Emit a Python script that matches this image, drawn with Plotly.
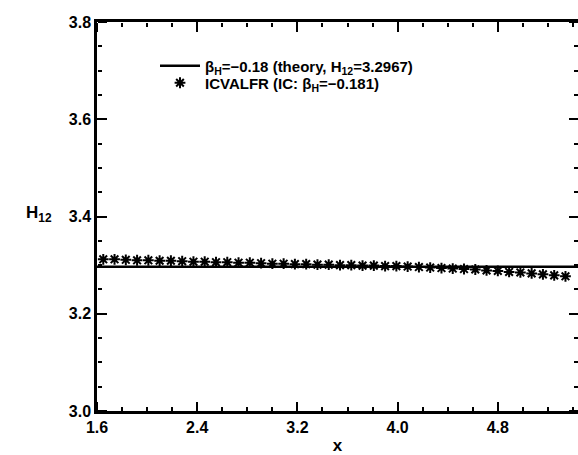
import plotly.graph_objects as go

# data
theory_x = [1.6, 5.44]
theory_y = [3.2967, 3.2967]
star_x = [1.65, 1.74, 1.83, 1.92, 2.01, 2.10, 2.19, 2.28, 2.37, 2.46, 2.55, 2.64, 2.73, 2.82,
          2.91, 3.00, 3.09, 3.18, 3.27, 3.36, 3.45, 3.54, 3.63, 3.72, 3.81, 3.90, 3.99, 4.08,
          4.17, 4.26, 4.35, 4.44, 4.53, 4.62, 4.71, 4.80, 4.89, 4.98, 5.07, 5.16, 5.25, 5.34]
star_y = [3.312, 3.312, 3.311, 3.310, 3.310, 3.309, 3.309, 3.308, 3.307, 3.307, 3.306, 3.306,
          3.305, 3.305, 3.304, 3.303, 3.303, 3.302, 3.302, 3.301, 3.301, 3.300, 3.300, 3.299,
          3.299, 3.298, 3.298, 3.297, 3.296, 3.295, 3.294, 3.293, 3.292, 3.291, 3.289, 3.288,
          3.286, 3.285, 3.283, 3.281, 3.279, 3.277]
x_range = [1.6, 5.44]
y_range = [3.0, 3.8]
x_tick_start, x_tick_step, x_minor_step = 1.6, 0.8, 0.2
y_tick_start, y_tick_step, y_minor_step = 3.0, 0.2, 0.05

FONT = "Liberation Sans, Arial, sans-serif"
L, R, T, B = 97, 0, 22, 44
W, H = 578, 455
PW, PH = W - L - R, H - T - B

fig = go.Figure()
fig.add_trace(go.Scatter(
    x=theory_x, y=theory_y, mode="lines",
    line=dict(color="black", width=2.5),
    name="β<sub>H</sub>=−0.18 (theory, H<sub>12</sub>=3.2967)", legend="legend"))
fig.add_trace(go.Scatter(
    x=star_x, y=star_y, mode="markers",
    marker=dict(symbol="asterisk-open", size=9, color="black",
                line=dict(color="black", width=2)),
    name="ICVALFR (IC: β<sub>H</sub>=−0.181)", legend="legend2"))

# invisible carrier traces so that the free tick axes get drawn
helper_x = ["x2", "x3", "x4", "x5"]
helper_y = ["y2", "y3", "y4", "y5"]
for xa in helper_x:
    fig.add_trace(go.Scatter(x=theory_x, y=theory_y, xaxis=xa, yaxis="y", mode="lines",
                             line=dict(width=0, color="rgba(0,0,0,0)"), opacity=0,
                             showlegend=False, hoverinfo="skip"))
for ya in helper_y:
    fig.add_trace(go.Scatter(x=theory_x, y=theory_y, xaxis="x", yaxis=ya, mode="lines",
                             line=dict(width=0, color="rgba(0,0,0,0)"), opacity=0,
                             showlegend=False, hoverinfo="skip"))

tickfont = dict(family=FONT, size=16, color="black", weight="bold")
main = dict(showgrid=False, zeroline=False, showline=True, linecolor="black", linewidth=2.5,
            ticks="inside", tickcolor="#000000", mirror="ticks", tickmode="linear")
helper = dict(showgrid=False, zeroline=False, showline=False, ticks="outside",
              tickcolor="#000000", tickmode="linear", showticklabels=False, anchor="free")

fig.update_layout(
    xaxis=dict(range=x_range, tick0=x_tick_start, dtick=x_tick_step, tickformat=".1f",
               ticklen=9, tickwidth=2, tickfont=tickfont, side="bottom", anchor="y",
               automargin=False,
               title=dict(text="x", font=dict(family=FONT, size=17, color="black", weight="bold"),
                          standoff=7), **main),
    yaxis=dict(range=y_range, tick0=y_tick_start, dtick=y_tick_step, tickformat=".1f",
               ticklen=9, tickwidth=2, tickfont=tickfont, side="left", anchor="x",
               automargin=False, **main),
    # free axes whose outside ticks point into the plotting area
    xaxis2=dict(range=x_range, tick0=x_tick_start, dtick=x_tick_step, ticklen=9, tickwidth=2,
                side="top", position=0, overlaying="x", **helper),
    xaxis3=dict(range=x_range, tick0=x_tick_start, dtick=x_minor_step, ticklen=4, tickwidth=1.5,
                side="top", position=0, overlaying="x", **helper),
    xaxis4=dict(range=x_range, tick0=x_tick_start, dtick=x_tick_step, ticklen=9, tickwidth=2,
                side="bottom", position=1, overlaying="x", **helper),
    xaxis5=dict(range=x_range, tick0=x_tick_start, dtick=x_minor_step, ticklen=4, tickwidth=1.5,
                side="bottom", position=1, overlaying="x", **helper),
    yaxis2=dict(range=y_range, tick0=y_tick_start, dtick=y_tick_step, ticklen=9, tickwidth=2,
                side="right", position=0, overlaying="y", **helper),
    yaxis3=dict(range=y_range, tick0=y_tick_start, dtick=y_minor_step, ticklen=4, tickwidth=1.5,
                side="right", position=0, overlaying="y", **helper),
    yaxis4=dict(range=y_range, tick0=y_tick_start, dtick=y_tick_step, ticklen=9, tickwidth=2,
                side="left", position=1, overlaying="y", **helper),
    yaxis5=dict(range=y_range, tick0=y_tick_start, dtick=y_minor_step, ticklen=4, tickwidth=1.5,
                side="left", position=1, overlaying="y", **helper),
)

fig.add_annotation(text="H<sub>12</sub>", xref="x domain", yref="y domain",
                   x=-(L - 24) / PW, y=(H - B - 214) / PH, showarrow=False,
                   font=dict(family=FONT, size=17, color="black", weight="bold"))

legfont = dict(family=FONT, size=15, color="black", weight="bold")
fig.update_layout(
    width=W, height=H,
    margin=dict(l=L, r=R, t=T, b=B),
    paper_bgcolor="white", plot_bgcolor="white",
    showlegend=True,
    legend=dict(x=(155 - L) / PW, y=(H - B - 66) / PH, xanchor="left", yanchor="middle",
                bgcolor="rgba(0,0,0,0)", font=legfont, itemwidth=40, borderwidth=0),
    legend2=dict(x=(155 - L) / PW, y=(H - B - 83) / PH, xanchor="left", yanchor="middle",
                 bgcolor="rgba(0,0,0,0)", font=legfont, itemwidth=40, borderwidth=0),
)
fig.write_html("out.html")
